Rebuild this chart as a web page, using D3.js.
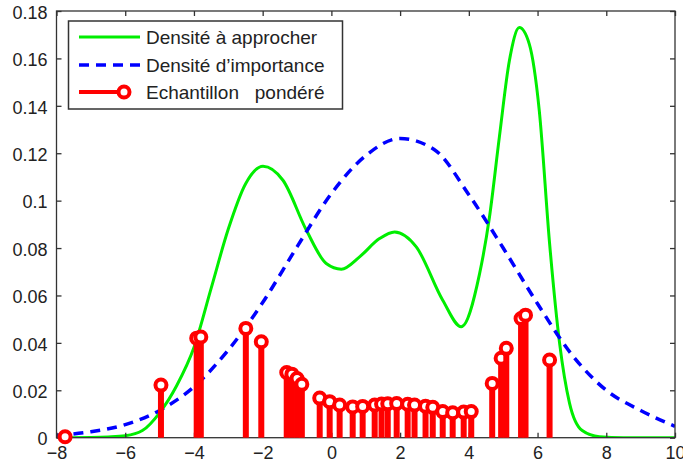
<html>
<head>
    <script src="https://cdn.jsdelivr.net/npm/d3@7"></script>
    <style>
        body { margin: 0; background: white; }
        text { font-family: "Liberation Sans", Arial, sans-serif; fill: #222; }
    </style>
</head>
<body>
    <svg class="chart" width="683" height="468"></svg>

    <script>

      // green curve: density to approximate
      var targetX = [-8, -7, -6.5, -6, -5.5, -5, -4.5, -4, -3.5, -3, -2.5, -1.99,
                     -1.41, -0.73, -0.15, 0.29, 0.82, 1.4, 1.84, 2.47, 3.24, 3.78, 4.31, 4.6, 4.89,
                     5.18, 5.47, 5.76, 6.05, 6.35, 6.64, 6.93, 7.3, 7.8, 8.5, 10];
      var targetY = [0, 0.0001, 0.0003, 0.0008, 0.003, 0.0105, 0.022, 0.038, 0.063, 0.088, 0.107, 0.1145,
                     0.1086, 0.0876, 0.0735, 0.0711, 0.0763, 0.084, 0.0868, 0.0805, 0.058, 0.0468, 0.069, 0.093, 0.127,
                     0.159, 0.173, 0.166, 0.138, 0.082, 0.040, 0.0146, 0.003, 0.0004, 0, 0];

      // blue dashed curve: importance density
      var propX = [-8, -7, -6, -5, -4, -3, -2, -1, 0, 1, 2, 3, 4, 5, 6, 7, 8, 9, 10];
      var propY = [0.001, 0.0025, 0.0055, 0.0115, 0.0215, 0.037, 0.057, 0.0805, 0.103, 0.119, 0.1262,
                   0.1215, 0.1025, 0.080, 0.0565, 0.035, 0.020, 0.0115, 0.0048];

      // weighted samples (stems)
      var sampleX = [-7.75, -4.96, -3.92, -3.8, -2.49, -2.04, -1.3, -1.15, -1.0, -0.86,
                     -0.34, -0.05, 0.24, 0.62, 0.91, 1.26, 1.46, 1.64, 1.9, 2.22, 2.42, 2.74, 2.95,
                     3.24, 3.53, 3.85, 4.07, 4.68, 4.94, 5.09, 5.52, 5.65, 6.35];
      var sampleW = [0.0004, 0.0222, 0.042, 0.0425, 0.0461, 0.0405, 0.0275, 0.0268, 0.025, 0.0225,
                     0.0167, 0.0152, 0.0138, 0.013, 0.0132, 0.0138, 0.0142, 0.0143, 0.0144, 0.0141, 0.0138, 0.0133, 0.0128,
                     0.011, 0.0105, 0.0108, 0.011, 0.0229, 0.0335, 0.0377, 0.0503, 0.0517, 0.0328];

      var xTicks = [-8, -6, -4, -2, 0, 2, 4, 6, 8, 10];
      var xTickLabels = ["\u22128", "\u22126", "\u22124", "\u22122", "0", "2", "4", "6", "8", "10"];
      var yTicks = [0, 0.02, 0.04, 0.06, 0.08, 0.1, 0.12, 0.14, 0.16, 0.18];
      var yTickLabels = ["0", "0.02", "0.04", "0.06", "0.08", "0.1", "0.12", "0.14", "0.16", "0.18"];

      var legendLabels = ["Densit\u00e9 \u00e0 approcher", "Densit\u00e9 d\u2019importance", "Echantillon   pond\u00e9r\u00e9"];

      var mLeft = 56.5, mRight = 675, mTop = 11, mBottom = 437.7;

      var svg = d3.select("svg");

      var x = d3.scaleLinear().domain([-8, 10]).range([mLeft, mRight]);
      var y = d3.scaleLinear().domain([0, 0.18]).range([mBottom, mTop]);

      var line = d3.line()
        .x(d => x(d[0]))
        .y(d => y(d[1]))
        .curve(d3.curveMonotoneX);

      svg.append("defs").append("clipPath").attr("id", "plot")
        .append("rect")
        .attr("x", mLeft).attr("y", mTop - 2)
        .attr("width", mRight - mLeft).attr("height", mBottom - mTop + 2);

      var plot = svg.append("g").attr("clip-path", "url(#plot)");

      plot.append("path")
        .datum(d3.zip(targetX, targetY))
        .attr("d", line)
        .attr("fill", "none")
        .attr("stroke", "#00ee00")
        .attr("stroke-width", 3);

      plot.append("path")
        .datum(d3.zip(propX, propY))
        .attr("d", line)
        .attr("fill", "none")
        .attr("stroke", "#0000ff")
        .attr("stroke-width", 3.5)
        .attr("stroke-dasharray", "10,7");

      // axes frame
      svg.append("rect")
        .attr("x", mLeft).attr("y", mTop)
        .attr("width", mRight - mLeft).attr("height", mBottom - mTop)
        .attr("fill", "none")
        .attr("stroke", "#333")
        .attr("stroke-width", 1.3);

      var xAxis = d3.axisBottom(x).tickValues(xTicks).tickSizeInner(-5).tickSizeOuter(0)
        .tickPadding(11)
        .tickFormat((d, i) => xTickLabels[i]);
      var xg = svg.append("g").attr("transform", "translate(0," + mBottom + ")").call(xAxis);

      var xTop = d3.axisTop(x).tickValues(xTicks).tickSizeInner(-5).tickSizeOuter(0).tickFormat("");
      var xtg = svg.append("g").attr("transform", "translate(0," + mTop + ")").call(xTop);

      var yAxis = d3.axisLeft(y).tickValues(yTicks).tickSizeInner(-5).tickSizeOuter(0)
        .tickPadding(9)
        .tickFormat((d, i) => yTickLabels[i]);
      var yg = svg.append("g").attr("transform", "translate(" + mLeft + ",0)").call(yAxis);

      var yRight = d3.axisRight(y).tickValues(yTicks).tickSizeInner(-5).tickSizeOuter(0).tickFormat("");
      var yrg = svg.append("g").attr("transform", "translate(" + mRight + ",0)").call(yRight);

      [xg, xtg, yg, yrg].forEach(g => {
        g.select(".domain").remove();
        g.selectAll(".tick line").attr("stroke", "#333").attr("stroke-width", 1.3);
        g.selectAll(".tick text").attr("font-size", 18).attr("font-family", "Liberation Sans, Arial, sans-serif").attr("fill", "#222");
      });
      xg.selectAll(".tick text").attr("dy", "0.55em");
      yg.selectAll(".tick text").attr("dy", "0.4em");

      // stems
      var stems = svg.append("g").selectAll("g")
        .data(d3.zip(sampleX, sampleW))
        .enter()
        .append("g");

      stems.append("line")
        .attr("x1", d => x(d[0])).attr("x2", d => x(d[0]))
        .attr("y1", y(0)).attr("y2", d => y(d[1]))
        .attr("stroke", "#ff0000")
        .attr("stroke-width", 6);

      stems.append("circle")
        .attr("cx", d => x(d[0]))
        .attr("cy", d => y(d[1]))
        .attr("r", 5.5)
        .attr("fill", "white")
        .attr("stroke", "#ff0000")
        .attr("stroke-width", 4);

      // legend
      var lg = svg.append("g");
      lg.append("rect")
        .attr("x", 68.5).attr("y", 21)
        .attr("width", 274).attr("height", 88)
        .attr("fill", "white")
        .attr("stroke", "#333")
        .attr("stroke-width", 1.5);

      var rowY = [37, 65, 92];

      lg.append("line")
        .attr("x1", 79).attr("x2", 140).attr("y1", rowY[0]).attr("y2", rowY[0])
        .attr("stroke", "#00ee00").attr("stroke-width", 3);
      lg.append("line")
        .attr("x1", 79).attr("x2", 140).attr("y1", rowY[1]).attr("y2", rowY[1])
        .attr("stroke", "#0000ff").attr("stroke-width", 3.5).attr("stroke-dasharray", "10,7");
      lg.append("line")
        .attr("x1", 79).attr("x2", 123).attr("y1", rowY[2]).attr("y2", rowY[2])
        .attr("stroke", "#ff0000").attr("stroke-width", 4);
      lg.append("circle")
        .attr("cx", 124).attr("cy", rowY[2]).attr("r", 5.5)
        .attr("fill", "white").attr("stroke", "#ff0000").attr("stroke-width", 4);

      lg.selectAll("text.lab")
        .data(legendLabels)
        .enter()
        .append("text")
        .attr("class", "lab")
        .attr("x", 146)
        .attr("y", (d, i) => rowY[i])
        .attr("dy", "0.36em")
        .attr("font-size", 19)
        .style("white-space", "pre")
        .text(d => d);

    </script>
</body>
</html>
